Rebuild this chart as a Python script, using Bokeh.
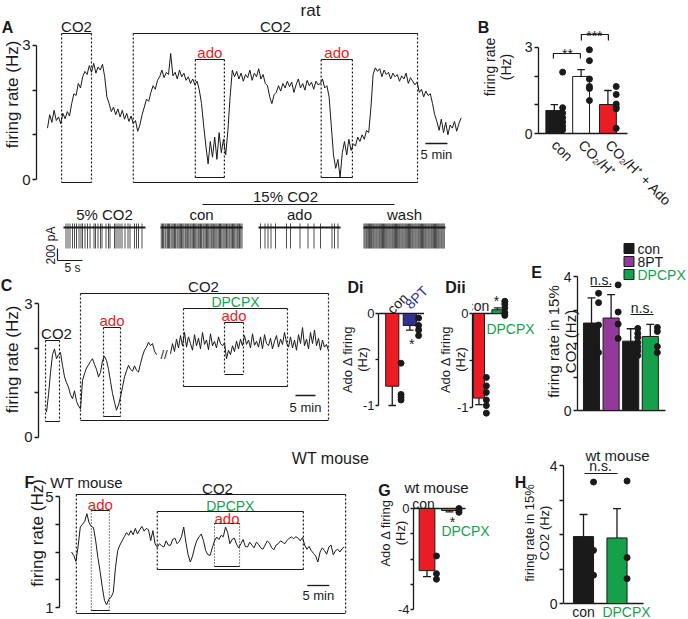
import numpy as np
from bokeh.plotting import figure
from bokeh.models import Range1d, Label, LinearAxis, FixedTicker
from bokeh.layouts import row, column
from bokeh.embed import file_html
from bokeh.resources import INLINE

FONT = "Liberation Sans"
INK = "#1a1a1a"
RED = "#ec1c24"
BLUE = "#2e3192"
PURPLE = "#93399a"
GREEN = "#17a04b"

# ------------------------------------------------------------------ data
# Panel A: rat firing-rate trace (Hz), one sample every 0.5 min
a_step = 0.5
a_rate = [
    1.15, 1.45, 1.28, 1.55, 1.32, 1.40, 1.25, 1.48, 1.36, 1.52,
    1.42, 1.70, 1.92,
    1.88, 2.15, 2.05, 2.30, 2.42, 2.35,
    2.55, 2.40, 2.60, 2.38, 2.52, 2.45, 2.58,
    2.30, 1.85,
    1.70, 1.52, 1.62, 1.45, 1.58, 1.40, 1.55, 1.35, 1.48, 1.30, 1.42,
    1.25, 1.32, 1.08, 1.22,
    1.45, 1.62, 1.80, 1.75, 1.95, 2.10, 2.02, 2.22,
    2.30, 2.45, 2.28, 2.40, 2.35, 2.82, 2.32, 2.40, 2.25, 2.45, 2.30, 2.38, 2.22,
    2.30, 2.15, 2.25, 2.12, 2.20,
    2.00, 1.70, 1.20, 0.75,
    0.35, 0.85, 0.50, 0.95, 0.45, 1.05, 0.60, 0.90, 0.55,
    1.10, 1.85, 2.45,
    2.30, 2.42, 2.25, 2.38, 2.20, 2.35, 2.28, 2.45, 2.22, 2.38, 2.30, 2.48, 2.25, 2.35, 2.15, 2.10,
    1.85, 1.70, 1.90, 1.95,
    2.10, 1.98, 2.15, 2.05, 2.20, 2.08, 2.18, 1.95, 2.12, 2.25, 2.05, 2.15, 2.00, 2.22, 2.10, 2.18, 2.02, 2.20, 2.12, 2.15,
    2.25, 2.05, 2.10, 1.85,
    1.20, 0.55, 0.25, 0.45, 0.05,
    0.60, 0.85, 0.55, 0.90, 0.65, 0.80,
    0.75, 0.95, 0.85, 1.00, 0.90, 1.10, 1.05,
    1.60, 2.35, 2.50,
    2.42, 2.48, 2.30, 2.45, 2.35, 2.40, 2.25, 2.38, 2.30, 2.35, 2.20, 2.32, 2.25, 2.38, 2.15, 2.28, 2.20, 2.12, 2.18,
    1.95, 2.02, 1.85, 1.98, 1.88, 1.92,
    1.70, 1.45, 1.30,
    1.10, 1.35, 1.05, 1.28, 1.00, 1.22, 1.15, 1.30, 1.08, 1.25, 1.38,
]
a_co2 = [(3.2, 10.0), (19.5, 84.1)]        # min
a_ado = [(33.6, 40.2), (62.2, 69.3)]       # min
scale_min = 5

# Panel A inset: voltage-clamp traces, spike times (s)
tr_names = ["5% CO2", "con", "ado", "wash"]
tr_len = 16.4
tr_spikes = [
    [0.5, 0.9, 1.3, 1.8, 2.2, 2.6, 3.1, 3.5, 3.8, 4.3, 4.8, 5.3, 6.1, 6.4, 6.9, 7.4, 7.7, 8.5,
     9.0, 9.3, 10.2, 10.5, 10.9, 11.3, 11.7, 12.3, 12.9, 13.3, 14.2, 14.6, 15.0, 15.7],
    [0.15, 0.4, 0.62, 0.9, 1.1, 1.38, 1.6, 1.82, 2.1, 2.32, 2.55, 2.8, 3.02, 3.3, 3.5, 3.75,
     3.98, 4.2, 4.45, 4.68, 4.95, 5.15, 5.42, 5.65, 5.9, 6.1, 6.35, 6.6, 6.82, 7.05, 7.3, 7.55,
     7.75, 8.0, 8.22, 8.5, 8.7, 8.95, 9.2, 9.42, 9.65, 9.9, 10.15, 10.35, 10.62, 10.85, 11.08,
     11.3, 11.55, 11.8, 12.0, 12.25, 12.5, 12.72, 12.95, 13.2, 13.45, 13.7, 13.9, 14.15, 14.4,
     14.62, 14.85, 15.1, 15.35, 15.55, 15.8, 16.05, 16.3],
    [0.4, 1.3, 1.9, 2.5, 3.4, 5.6, 6.4, 8.3, 9.9, 11.1, 12.4, 14.7, 15.2, 15.9],
    [0.1, 0.32, 0.55, 0.75, 0.98, 1.2, 1.42, 1.62, 1.85, 2.05, 2.28, 2.5, 2.7, 2.92, 3.15, 3.35,
     3.58, 3.8, 4.0, 4.22, 4.45, 4.65, 4.88, 5.1, 5.3, 5.52, 5.75, 5.95, 6.18, 6.4, 6.6, 6.82,
     7.05, 7.25, 7.48, 7.7, 7.9, 8.12, 8.35, 8.55, 8.78, 9.0, 9.2, 9.42, 9.65, 9.85, 10.08, 10.3,
     10.5, 10.72, 10.95, 11.15, 11.38, 11.6, 11.8, 12.02, 12.25, 12.45, 12.68, 12.9, 13.1,
     13.32, 13.55, 13.75, 13.98, 14.2, 14.4, 14.62, 14.85, 15.05, 15.28, 15.5, 15.7, 15.92, 16.15],
]

# Panel B
b_cats = ["con", "CO\u2082/H\u207a", "CO\u2082/H\u207a + Ado"]
b_mean = [0.80, 1.99, 1.01]
b_sem = [0.21, 0.24, 0.49]
b_pts = [[2.14, 0.90, 0.71, 0.55, 0.40, 0.25, 0.13],
         [2.92, 2.54, 1.90, 1.64, 1.57, 1.15],
         [1.64, 1.36, 1.03, 0.92, 0.86, 0.18]]

# Panel C
c_step = 0.5
c_rate_1 = [
    0.56, 0.95, 1.45, 1.85, 1.98, 1.76, 1.85, 1.90, 1.61, 1.35,
    1.22, 1.12, 0.95, 0.86, 1.04, 0.80, 0.70, 0.63, 1.27, 1.42,
    1.55, 1.62, 1.70, 1.76, 1.63, 1.52, 1.35, 1.45, 1.72, 1.81,
    1.72, 1.52, 1.25, 0.98, 0.78, 0.60, 0.72, 0.90, 1.12, 1.35,
    1.49, 1.61, 1.52, 1.48, 1.60, 1.50, 1.46, 1.65, 1.82, 1.95,
    2.02, 2.13, 2.05, 2.10, 1.93, 1.85,
]
c_t2_start = 31.0
c_rate_2 = [
    1.87, 2.10, 1.92, 2.20, 2.00, 2.28, 2.05, 2.35, 2.02, 2.25,
    2.10, 1.95, 2.30, 2.05, 2.22, 1.98, 2.35, 2.08, 2.18, 1.96,
    2.32, 2.05, 2.15, 2.00, 2.25, 2.10, 2.05, 2.12, 1.76, 1.95,
    1.85, 2.05, 1.92, 2.15, 1.98, 2.20, 2.05, 2.28, 2.08, 2.18,
    2.00, 2.32, 2.06, 2.15, 2.02, 2.25, 1.98, 2.30, 2.10, 2.05,
    2.22, 1.98, 2.15, 2.28, 2.02, 2.20, 2.08, 2.35, 2.12, 2.02,
    2.25, 2.00, 2.18, 1.95, 2.30, 2.10, 2.46, 2.05, 2.20, 1.98,
    2.35, 2.10, 2.40, 2.05, 2.22, 1.95, 2.18, 2.02, 2.08, 1.94,
]
c_co2 = [(-0.25, 3.25), (8.5, 70.5)]
c_ado = [(14.25, 18.5), (44.5, 49.25)]
c_dpcpx = (34.25, 60.25)

# Panel Di / Dii
di_groups = ["con", "8PT"]
di_mean = [-0.79, -0.13]
di_sem = [0.21, 0.05]
di_pts = [[-0.54, -0.88, -0.91, -0.94], [-0.05, -0.13, -0.18, -0.24]]
dii_groups = ["con", "DPCPX"]
dii_mean = [-0.90, 0.04]
dii_sem = [0.07, 0.02]
dii_pts = [[-0.68, -0.77, -0.84, -0.92, -0.98, -1.06], [0.13, 0.10, 0.06, 0.01, -0.02]]

# Panel E
e_legend = ["con", "8PT", "DPCPX"]
e_mean = [2.61, 2.76, 2.07, 2.21]
e_sem = [0.75, 0.70, 0.37, 0.36]
e_pts = [[3.50, 3.22, 2.55, 1.73],
         [3.75, 2.94, 2.58, 2.15],
         [2.45, 2.30, 2.18, 2.03, 1.90, 1.78, 1.64],
         [2.48, 2.36, 1.91, 1.73]]

# Panel F: WT mouse trace (Hz), one sample every 0.5 min
f_step = 0.5
f_rate = [
    3.00, 2.88, 2.66, 3.20, 3.90, 4.00, 4.10, 4.38, 4.05, 3.92,
    3.88, 3.40, 2.80, 2.30, 1.73, 1.25, 1.10, 1.30, 1.37, 1.55,
    2.45, 3.05, 3.25, 3.40, 3.55, 3.70, 3.60, 3.77, 3.62, 3.85,
    3.65, 3.80, 3.92, 3.75, 3.85, 3.80, 3.41, 3.77, 3.29, 3.17,
    3.30, 3.22, 3.18, 3.40, 3.25, 3.24, 3.45, 3.50, 3.30, 3.38,
    3.55, 3.90, 3.35, 2.90, 2.64, 2.85, 3.18, 3.42, 3.55, 3.65,
    3.40, 3.05, 2.90, 2.88, 3.15, 3.40, 3.54, 3.45, 3.60, 3.55,
    3.90, 3.70, 3.30, 3.45, 3.50, 3.28, 3.15, 3.30, 3.45, 3.20,
    3.18, 3.35, 3.25, 3.15, 3.35, 3.28, 3.15, 3.10, 3.25, 3.40,
    3.32, 3.15, 3.08, 3.25, 3.30, 3.40, 3.35, 3.30, 3.42, 3.50,
    3.54, 3.48, 3.55, 3.50, 3.40, 3.52, 3.25, 3.10, 3.20, 3.05,
    2.95, 2.85, 2.64, 3.00, 3.15, 3.05, 2.92, 3.18, 3.25, 2.90,
    3.05, 3.10, 3.00, 3.12, 3.18,
]
f_co2 = (1.1, 62.3)
f_ado = [(4.5, 8.6), (32.5, 38.2)]
f_dpcpx = (19.5, 52.7)

# Panel G / H
g_groups = ["con", "DPCPX"]
g_mean = [-2.46, -0.08]
g_sem = [0.24, 0.05]
g_pts = [[-1.88, -2.58, -2.80], [0.00, -0.08, -0.15]]
h_groups = ["con", "DPCPX"]
h_mean = [1.94, 1.90]
h_sem = [0.64, 0.85]
h_pts = [[3.52, 1.54, 0.82], [3.55, 1.33, 0.72]]


# ------------------------------------------------------------------ helpers
def make_fig(w, h, xr, yr, left=0, bottom=0):
    p = figure(width=w, height=h, x_range=Range1d(*xr), y_range=Range1d(*yr),
               x_axis_type=None, y_axis_type=None, output_backend="svg",
               toolbar_location=None, min_border_left=left, min_border_right=0,
               min_border_top=0, min_border_bottom=bottom)
    p.outline_line_color = None
    p.background_fill_color = None
    p.border_fill_color = None
    return p


def add_yaxis(p, major, minor, bounds, label, lsize, tsize, lstand, lh=1.0,
              overrides=None, tick_out=4, tstand=2):
    ax = LinearAxis(ticker=FixedTicker(ticks=major, minor_ticks=minor), bounds=bounds)
    ax.axis_label = label
    ax.axis_label_text_font = FONT
    ax.axis_label_text_font_size = lsize
    ax.axis_label_text_font_style = "normal"
    ax.axis_label_text_color = INK
    ax.axis_label_standoff = lstand
    ax.axis_label_text_line_height = lh
    ax.major_label_text_font = FONT
    ax.major_label_text_font_size = tsize
    ax.major_label_text_color = INK
    ax.major_label_standoff = tstand
    ax.axis_line_color = INK
    ax.axis_line_width = 1.3
    ax.major_tick_line_color = INK
    ax.major_tick_line_width = 1.3
    ax.minor_tick_line_color = INK
    ax.minor_tick_line_width = 1.3
    ax.major_tick_in = 0
    ax.major_tick_out = tick_out
    ax.minor_tick_in = 0
    ax.minor_tick_out = tick_out
    if overrides:
        ax.major_label_overrides = overrides
    p.add_layout(ax, "left")
    return ax


def lab(p, x, y, text, size="15px", color=INK, align="center", baseline="middle",
        angle=0.0, bold=False):
    p.add_layout(Label(x=x, y=y, text=text, text_font=FONT, text_font_size=size,
                       text_color=color, text_align=align, text_baseline=baseline,
                       angle=angle, text_font_style="bold" if bold else "normal"))


def draw_box(p, x0, x1, top, bottom, dash="2 2", lw=1.2):
    p.segment(x0=[x0, x0], y0=[top, bottom], x1=[x1, x1], y1=[top, bottom],
              line_color=INK, line_width=lw)
    p.segment(x0=[x0, x1], y0=[top, top], x1=[x0, x1], y1=[bottom, bottom],
              line_color=INK, line_width=lw, line_dash=dash)


def baseline(p, x0, x1):
    p.segment(x0=[x0], y0=[0], x1=[x1], y1=[0], line_color=INK, line_width=1.3)


def bars(p, xs, mean, sem, pts, colors, width, off, cap, dot_size=6):
    p.vbar(x=xs, top=mean, bottom=[0] * len(xs), width=width, fill_color=colors,
           line_color=INK, line_width=1)
    ends = [m + (s if m >= 0 else -s) for m, s in zip(mean, sem)]
    p.segment(x0=xs, y0=mean, x1=xs, y1=ends, line_color=INK, line_width=1.3)
    p.segment(x0=[x - cap for x in xs], y0=ends, x1=[x + cap for x in xs], y1=ends,
              line_color=INK, line_width=1.3)
    dx, dy = [], []
    for x, vals in zip(xs, pts):
        dx += [x + off] * len(vals)
        dy += list(vals)
    p.scatter(dx, dy, size=dot_size, fill_color=INK, line_color=INK)


ROW3_BOTTOM = 446   # page y where the third row of panels ends (and the fourth begins)

# overlay (page pixel coordinates) for panel letters and texts that sit outside plot frames
ov = make_fig(688, 619, (0, 688), (619, 0))
ov.margin = (-619, 0, 0, 0)

# ------------------------------------------------------------------ A
aX = lambda px: (px - 47) / 4.4
aY = lambda py: (179 - py) / 44.67
pA = make_fig(478, 188, (aX(36), aX(478)), (aY(188), aY(0)), left=36)
add_yaxis(pA, [0, 3], [1, 2], (0, 3), "firing rate (Hz)", "17px", "15px", lstand=-3)
a_time = [a_step * i for i in range(len(a_rate))]
pA.line(a_time, a_rate, line_color=INK, line_width=1)
for t0, t1 in a_co2:
    draw_box(pA, t0, t1, aY(33), aY(182))
    lab(pA, (t0 + t1) / 2, aY(26), "CO2", "15px")
for t0, t1 in a_ado:
    draw_box(pA, t0, t1, aY(59), aY(177))
    lab(pA, (t0 + t1) / 2, aY(52), "ado", "15px", RED)
pA.segment(x0=[85.9], y0=[aY(143)], x1=[85.9 + scale_min], y1=[aY(143)], line_color=INK, line_width=1.3)
lab(pA, 85.9 + scale_min / 2, aY(154), "5 min", "13px")
lab(pA, aX(310), aY(10), "rat", "17px")
lab(ov, 7, 27, "A", "16px", bold=True)

# ------------------------------------------------------------------ inset traces
tX = lambda px: (px - 8) / 5
tY = lambda py: (227 - py) * 16.7
pT = make_fig(478, 84, (tX(36), tX(478)), (tY(272), tY(188)), left=36)
tr_off = [tX(63), tX(160), tX(258), tX(363)]
for off, spikes, name in zip(tr_off, tr_spikes, tr_names):
    xs = [off + s for s in spikes]
    pT.segment(x0=xs, y0=[tY(223)] * len(xs), x1=xs, y1=[tY(248)] * len(xs),
               line_color="#3a3a3a", line_width=0.9)
    pT.segment(x0=[off], y0=[0], x1=[off + tr_len], y1=[0], line_color=INK, line_width=2.2)
    lab(pT, off + tr_len / 2, tY(214), name, "15px")
pT.segment(x0=[tX(202)], y0=[tY(204)], x1=[tX(394)], y1=[tY(204)], line_color=INK, line_width=1.2)
lab(pT, tX(285), tY(196), "15% CO2", "15px")
sbx = tX(57)
pT.segment(x0=[sbx, sbx], y0=[tY(248), tY(248) - 200], x1=[sbx, sbx + 5], y1=[tY(248) - 200, tY(248) - 200],
           line_color=INK, line_width=1.2)
lab(pT, tX(50), tY(245), "200 pA", "12px", angle=np.pi / 2)
lab(ov, 72, 267, "5 s", "12px")

# ------------------------------------------------------------------ B
bX = lambda px: 1 + (px - 544) / 28.75
bY = lambda py: (133 - py) / 28.67
pB = make_fig(210, 236, (bX(527), bX(688)), (0, bY(0)), left=49, bottom=103)
add_yaxis(pB, [0, 3], [1, 2], (0, 3), "firing rate\n(Hz)", "14px", "14px", lstand=8)
b_x = [1, 2, 3]
bars(pB, b_x, b_mean, b_sem, b_pts, [INK, "white", RED], 0.63, 0.31, 4 / 28.75)
xa = LinearAxis(ticker=FixedTicker(ticks=b_x), bounds=(bX(527), bX(622)))
xa.major_label_overrides = {x: c for x, c in zip(b_x, b_cats)}
xa.major_label_orientation = -0.78
xa.major_tick_line_color = None
xa.minor_tick_line_color = None
xa.axis_line_color = INK
xa.axis_line_width = 1.3
xa.major_label_text_font = FONT
xa.major_label_text_font_size = "14px"
xa.major_label_text_color = INK
xa.major_label_standoff = 3
pB.add_layout(xa, "below")
pB.line([bX(543), bX(543), bX(572), bX(572)], [bY(58), bY(53), bY(53), bY(58)], line_color=INK, line_width=1.2)
pB.line([bX(573), bX(573), bX(602), bX(602)], [bY(40), bY(34), bY(34), bY(40)], line_color=INK, line_width=1.2)
lab(pB, bX(558), bY(53), "**", "14px")
lab(pB, bX(587), bY(35), "***", "14px")
lab(ov, 483, 27, "B", "16px", bold=True)

# ------------------------------------------------------------------ C
cX = lambda px: (px - 46) / 4
cY = lambda py: (436.5 - py) / 44.5
pC = make_fig(336, ROW3_BOTTOM - 272, (cX(38), cX(336)), (cY(ROW3_BOTTOM), cY(272)), left=38)
add_yaxis(pC, [0, 3], [1, 2], (0, 3), "firing rate (Hz)", "17px", "15px", lstand=-1)
c_t1 = [c_step * i for i in range(len(c_rate_1))]
c_t2 = [c_t2_start + c_step * i for i in range(len(c_rate_2))]
pC.line(c_t1, c_rate_1, line_color=INK, line_width=1)
pC.line(c_t2, c_rate_2, line_color=INK, line_width=1)
lab(pC, cX(163.5), cY(354), "//", "13px")
draw_box(pC, c_co2[0][0], c_co2[0][1], cY(340), cY(421))
lab(pC, cX(56), cY(333), "CO2", "15px")
draw_box(pC, c_co2[1][0], c_co2[1][1], cY(293), cY(420))
lab(pC, cX(203), cY(286), "CO2", "15px")
draw_box(pC, c_ado[0][0], c_ado[0][1], cY(327), cY(416))
lab(pC, sum(c_ado[0]) / 2, cY(320), "ado", "15px", RED)
draw_box(pC, c_dpcpx[0], c_dpcpx[1], cY(308), cY(386))
lab(pC, sum(c_dpcpx) / 2, cY(301), "DPCPX", "14px", GREEN)
draw_box(pC, c_ado[1][0], c_ado[1][1], cY(322), cY(374))
lab(pC, sum(c_ado[1]) / 2, cY(315), "ado", "15px", RED)
pC.segment(x0=[62.25], y0=[cY(395)], x1=[62.25 + scale_min], y1=[cY(395)], line_color=INK, line_width=1.3)
lab(pC, 62.25 + scale_min / 2, cY(407), "5 min", "13px")
lab(ov, 6, 285, "C", "16px", bold=True)

# ------------------------------------------------------------------ Di
dX = lambda px: 1 + (px - 389.5) / 18.5
dY = lambda py: (313 - py) / 92
pDi = make_fig(98, ROW3_BOTTOM - 272, (dX(375), dX(434)), (dY(ROW3_BOTTOM), dY(272)), left=39)
add_yaxis(pDi, [0, -1], [-0.5], (-1, 0), "Ado \u0394 firing\n(Hz)", "13px", "13px", lstand=-10,
          overrides={-1: "-1"}, tick_out=3, tstand=1)
baseline(pDi, dX(375), dX(423))
bars(pDi, [1, 2], di_mean, di_sem, di_pts, [RED, BLUE], 0.75, 0.5, 4 / 18.5)
lab(pDi, dX(395), dY(303), di_groups[0], "14px", angle=np.pi / 4)
lab(pDi, dX(415), dY(297), di_groups[1], "14px", BLUE, angle=np.pi / 4)
lab(pDi, dX(410), dY(343), "*", "14px")
lab(ov, 355, 287, "Di", "16px", bold=True)

# ------------------------------------------------------------------ Dii
d2X = lambda px: 1 + (px - 474) / 20
d2Y = lambda py: (313 - py) / 94
pDii = make_fig(98, ROW3_BOTTOM - 272, (d2X(467), d2X(532)), (d2Y(ROW3_BOTTOM), d2Y(272)), left=33)
add_yaxis(pDii, [0, -1], [-0.5], (-1, 0), "Ado \u0394 firing\n(Hz)", "13px", "13px", lstand=-14,
          overrides={-1: "-1"}, tick_out=3, tstand=1)
baseline(pDii, d2X(467), d2X(503))
bars(pDii, [1, 2], dii_mean, dii_sem, dii_pts, [RED, GREEN], 0.6, 0.4, 4 / 20)
lab(pDii, d2X(473), d2Y(305), dii_groups[0], "14px")
lab(pDii, d2X(493), d2Y(300), "*", "14px")
lab(ov, 510, 328, dii_groups[1], "14px", GREEN)
lab(ov, 455, 287, "Dii", "16px", bold=True)

# ------------------------------------------------------------------ E
eX = lambda px: 1 + (px - 591) / 19.6
eY = lambda py: (410 - py) / 33.5
pE = make_fig(156, ROW3_BOTTOM - 236, (eX(577), eX(688)), (eY(ROW3_BOTTOM), eY(236)), left=45)
pE.margin = (-36, 0, 0, 0)
add_yaxis(pE, [0, 4], [1, 2, 3], (0, 4), "firing rate in 15%\nCO2 (Hz)", "15px", "14px", lstand=-18)
baseline(pE, eX(577), eX(665))
bars(pE, [1, 2, 3, 4], e_mean, e_sem, e_pts, [INK, PURPLE, INK, GREEN], 0.82, 0.36, 4 / 19.6)
pE.segment(x0=[eX(590), eX(630)], y0=[eY(286), eY(314)], x1=[eX(611), eX(653)], y1=[eY(286), eY(314)],
           line_color=INK, line_width=1.2)
lab(pE, eX(600.5), eY(279), "n.s.", "14px")
lab(pE, eX(641.5), eY(307), "n.s.", "14px")
leg_y = [eY(248), eY(261), eY(274)]
pE.scatter([eX(628.5)] * 3, leg_y, marker="square", size=10,
           fill_color=[INK, PURPLE, GREEN], line_color=INK)
for name, yy, col in zip(e_legend, leg_y, [INK, INK, GREEN]):
    lab(pE, eX(637), yy, name, "14px", col, align="left")
lab(ov, 536, 272, "E", "16px", bold=True)

# ------------------------------------------------------------------ F
row4_h = 619 - ROW3_BOTTOM
fX = lambda px: (px - 71) / 4.4
fY = lambda py: 1 + (607 - py) / 27.75
pF = make_fig(372, row4_h, (fX(59), fX(372)), (fY(619), fY(ROW3_BOTTOM)), left=59)
add_yaxis(pF, [1, 5], [2, 3, 4], (1, 5), "firing rate (Hz)", "17px", "15px", lstand=-5)
f_time = [f_step * i for i in range(len(f_rate))]
pF.line(f_time, f_rate, line_color=INK, line_width=1)
draw_box(pF, f_co2[0], f_co2[1], fY(494), fY(613))
lab(pF, fX(217), fY(488), "CO2", "15px")
draw_box(pF, f_ado[0][0], f_ado[0][1], fY(510), fY(610), dash="1 2", lw=1.1)
lab(pF, sum(f_ado[0]) / 2, fY(504), "ado", "15px", RED)
draw_box(pF, f_dpcpx[0], f_dpcpx[1], fY(511), fY(569))
lab(pF, sum(f_dpcpx) / 2, fY(505), "DPCPX", "14px", GREEN)
draw_box(pF, f_ado[1][0], f_ado[1][1], fY(523), fY(566), dash="1 2", lw=1.1)
lab(pF, sum(f_ado[1]) / 2, fY(518), "ado", "15px", RED)
pF.segment(x0=[53.6], y0=[fY(585)], x1=[53.6 + scale_min], y1=[fY(585)], line_color=INK, line_width=1.3)
lab(pF, 53.6 + scale_min / 2, fY(595), "5 min", "13px")
lab(pF, fX(330), fY(458), "WT mouse", "16px")
lab(ov, 86, 482, "WT mouse", "15px")
lab(ov, 29, 482, "F", "16px", bold=True)

# ------------------------------------------------------------------ G
gX = lambda px: 1 + (px - 426.5) / 22.5
gY = lambda py: (508 - py) / 25.25
pG = make_fig(126, row4_h, (gX(413), gX(498)), (gY(619), gY(ROW3_BOTTOM)), left=41)
add_yaxis(pG, [0, -4], [-1, -2, -3], (-4, 0), "Ado \u0394 firing\n(Hz)", "13px", "13px", lstand=-13,
          overrides={-4: "-4"}, tick_out=3, tstand=1)
baseline(pG, gX(413), gX(465))
bars(pG, [1, 2], g_mean, g_sem, g_pts, [RED, GREEN], 0.7, 0.42, 4 / 22.5)
lab(pG, gX(452), gY(521), "*", "14px")
lab(pG, gX(465), gY(530), g_groups[1], "14px", GREEN)
lab(ov, 436, 487, "wt mouse", "15px")
lab(ov, 423, 503, g_groups[0], "14px")
lab(ov, 384, 490, "G", "16px", bold=True)

# ------------------------------------------------------------------ H
hX = lambda px: 1 + (px - 583) / 33.5
hY = lambda py: (603 - py) / 34.5
pH = make_fig(190, row4_h, (hX(563), hX(688)), (hY(619), hY(ROW3_BOTTOM)), left=65)
add_yaxis(pH, [0, 4], [1, 2, 3], (0, 4), "firing rate in 15%\nCO2 (Hz)", "13px", "14px", lstand=-5)
baseline(pH, hX(563), hX(643))
bars(pH, [1, 2], h_mean, h_sem, h_pts, [INK, GREEN], 0.6, 0.3, 4 / 33.5)
pH.segment(x0=[hX(584)], y0=[hY(473)], x1=[hX(617)], y1=[hY(473)], line_color=INK, line_width=1.2)
lab(pH, hX(600), hY(465), "n.s.", "14px")
lab(pH, hX(617), hY(455), "wt mouse", "15px")
lab(ov, 583, 611, h_groups[0], "14px")
lab(ov, 626, 611, h_groups[1], "14px", GREEN)
lab(ov, 520, 482, "H", "16px", bold=True)

# ------------------------------------------------------------------ layout
layout = column(
    row(column(pA, pT), pB),
    row(pC, pDi, pDii, pE),
    row(pF, pG, pH),
    ov,
)
open("out.html", "w").write(file_html(layout, INLINE))
